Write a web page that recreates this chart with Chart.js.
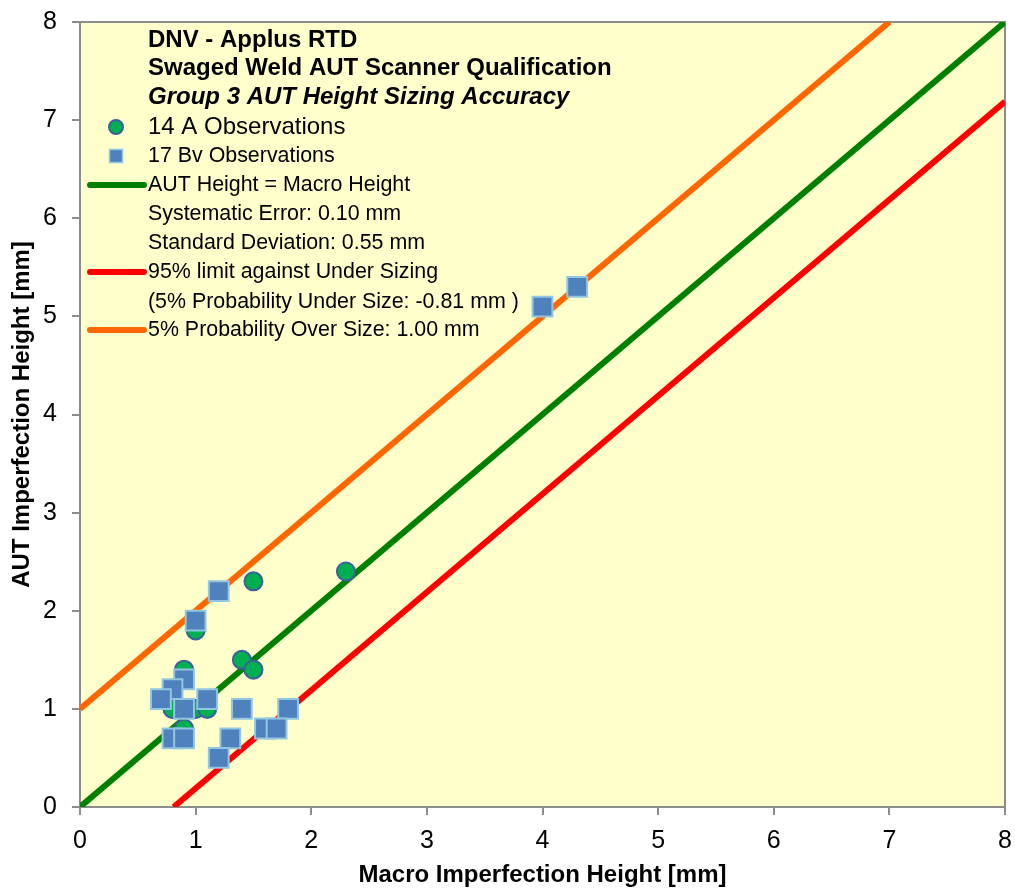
<!DOCTYPE html>
<html>
<head>
<meta charset="utf-8">
<script src="https://cdn.jsdelivr.net/npm/chart.js@4.4.1/dist/chart.umd.min.js"></script>
<style>
  html, body { margin: 0; padding: 0; background: #ffffff; }
  #wrap { width: 1015px; height: 888px; }
</style>
</head>
<body>
<div id="wrap"><canvas id="sizingChart" width="1015" height="888"></canvas></div>
<script>
// Group 3 AUT height sizing accuracy

// 14 A observations (macro height, AUT height) in mm
const aMacro = [1.5, 2.3, 1.0, 1.4, 1.5, 0.9, 1.0, 1.1, 0.9, 0.8, 0.9, 0.9, 0.8, 1.2];
const aAut   = [2.3, 2.4, 1.8, 1.5, 1.4, 1.4, 1.0, 1.0, 0.8, 1.0, 1.0, 1.3, 0.7, 2.2];

// 17 Bv observations
const bvMacro = [4.3, 4.0, 1.2, 1.0, 0.9, 0.8, 0.7, 0.9, 1.1, 1.4, 1.8, 0.8, 0.9, 1.3, 1.2, 1.6, 1.7];
const bvAut   = [5.3, 5.1, 2.2, 1.9, 1.3, 1.2, 1.1, 1.0, 1.1, 1.0, 1.0, 0.7, 0.7, 0.7, 0.5, 0.8, 0.8];

// reference lines, end points in mm
const equalLineX = [0, 8];
const equalLineY = [0, 8];
const underLineX = [0.81, 8];
const underLineY = [0, 7.19];
const overLineX  = [0, 7];
const overLineY  = [1, 8];

const axisTicks = [0, 1, 2, 3, 4, 5, 6, 7, 8];

const legendTitle = ['DNV - Applus RTD', 'Swaged Weld AUT Scanner Qualification', 'Group 3 AUT Height Sizing Accuracy'];
const legendItems = [
    { text: '14 A Observations', mark: 'circle' },
    { text: '17 Bv Observations', mark: 'square' },
    { text: 'AUT Height = Macro Height', mark: 'line', color: '#008000' },
    { text: 'Systematic Error: 0.10 mm', mark: 'none' },
    { text: 'Standard Deviation: 0.55 mm', mark: 'none' },
    { text: '95% limit against Under Sizing', mark: 'line', color: '#ff0000' },
    { text: '(5% Probability Under Size: -0.81 mm )', mark: 'none' },
    { text: '5% Probability Over Size: 1.00 mm', mark: 'line', color: '#ff6600' }
];

const FONT = "'Liberation Sans', Arial, sans-serif";

function toPoints(xs, ys) {
    return xs.map((x, i) => ({ x: x, y: ys[i] }));
}

// plot area background + frame
const plotFrame = {
    id: 'plotFrame',
    beforeDraw(chart) {
        const { ctx, chartArea: a } = chart;
        ctx.save();
        ctx.fillStyle = '#ffffff';
        ctx.fillRect(0, 0, chart.width, chart.height);
        ctx.fillStyle = '#ffffcc';
        ctx.fillRect(a.left, a.top, a.right - a.left, a.bottom - a.top);
        ctx.restore();
    },
    beforeDatasetsDraw(chart) {
        const { ctx, chartArea: a } = chart;
        ctx.save();
        ctx.strokeStyle = '#8c8c8c';
        ctx.lineWidth = 2;
        ctx.strokeRect(a.left, a.top, a.right - a.left, a.bottom - a.top);
        ctx.restore();
    }
};

// legend block inside the plot, top left
const insideLegend = {
    id: 'insideLegend',
    afterDraw(chart) {
        const ctx = chart.ctx;
        const textX = 148;
        const markX = 116;
        ctx.save();
        ctx.fillStyle = '#000000';
        ctx.textAlign = 'left';
        ctx.textBaseline = 'middle';

        const titleY = [40, 68, 97];
        legendTitle.forEach((t, i) => {
            ctx.font = (i === 2 ? 'italic bold 24px ' : 'bold 24px ') + FONT;
            ctx.fillText(t, textX, titleY[i]);
        });

        const rowY = [127, 156, 185, 214, 243, 272, 302, 330];
        legendItems.forEach((item, i) => {
            const y = rowY[i];
            ctx.font = (i === 0 ? '24px ' : '21.4px ') + FONT;
            ctx.fillStyle = '#000000';
            ctx.fillText(item.text, textX, y);
            if (item.mark === 'circle') {
                ctx.beginPath();
                ctx.arc(markX, y, 7, 0, Math.PI * 2);
                ctx.fillStyle = '#00b050';
                ctx.fill();
                ctx.lineWidth = 2;
                ctx.strokeStyle = '#3f5e9e';
                ctx.stroke();
            } else if (item.mark === 'square') {
                ctx.fillStyle = '#4f81bd';
                ctx.fillRect(markX - 6.5, y - 6.5, 13, 13);
                ctx.lineWidth = 1.5;
                ctx.strokeStyle = '#93c6e0';
                ctx.strokeRect(markX - 6.5, y - 6.5, 13, 13);
            } else if (item.mark === 'line') {
                ctx.beginPath();
                ctx.moveTo(90, y);
                ctx.lineTo(144, y);
                ctx.lineWidth = 6;
                ctx.lineCap = 'round';
                ctx.strokeStyle = item.color;
                ctx.stroke();
            }
        });
        ctx.restore();
    }
};

function axisOptions(titleText, isX) {
    return {
        type: 'linear',
        min: axisTicks[0],
        max: axisTicks[axisTicks.length - 1],
        afterBuildTicks: scale => {
            scale.ticks = axisTicks.map(v => ({ value: v }));
        },
        afterFit: scale => {
            // fixed axis box, no extra room for edge labels
            if (isX) {
                scale.height = 81;
                scale.paddingLeft = 0;
                scale.paddingRight = 0;
            } else {
                scale.width = 80;
                scale.paddingTop = 0;
                scale.paddingBottom = 0;
            }
        },
        grid: {
            drawOnChartArea: false,
            drawTicks: true,
            tickLength: 8,
            color: '#8c8c8c',
            lineWidth: 2
        },
        border: { display: true, color: '#8c8c8c', width: 2 },
        ticks: {
            color: '#000000',
            font: { family: FONT, size: 25 },
            padding: isX ? 11 : 15,
            maxRotation: 0
        },
        title: {
            display: true,
            text: titleText,
            color: '#000000',
            font: { family: FONT, size: 24, weight: 'bold', lineHeight: 1 },
            padding: isX ? { top: 0, bottom: 1 } : { top: 10, bottom: 0 }
        }
    };
}

new Chart(document.getElementById('sizingChart'), {
    type: 'scatter',
    data: {
        datasets: [
            {
                label: '17 Bv Observations',
                data: toPoints(bvMacro, bvAut),
                pointStyle: 'rect',
                pointRadius: 14,
                pointHoverRadius: 14,
                backgroundColor: '#4f81bd',
                borderColor: '#93c6e0',
                borderWidth: 2,
                order: 0
            },
            {
                label: '14 A Observations',
                data: toPoints(aMacro, aAut),
                pointStyle: 'circle',
                pointRadius: 9,
                pointHoverRadius: 9,
                backgroundColor: '#00b050',
                borderColor: '#3f5e9e',
                borderWidth: 2,
                order: 1
            },
            {
                label: 'AUT Height = Macro Height',
                data: toPoints(equalLineX, equalLineY),
                showLine: true,
                pointRadius: 0,
                borderColor: '#008000',
                borderWidth: 6,
                order: 2
            },
            {
                label: '95% limit against Under Sizing',
                data: toPoints(underLineX, underLineY),
                showLine: true,
                pointRadius: 0,
                borderColor: '#ff0000',
                borderWidth: 6,
                order: 3
            },
            {
                label: '5% Probability Over Size',
                data: toPoints(overLineX, overLineY),
                showLine: true,
                pointRadius: 0,
                borderColor: '#ff6600',
                borderWidth: 6,
                order: 4
            }
        ]
    },
    options: {
        responsive: false,
        animation: false,
        // big markers would otherwise push the plot edge inwards
        layout: { autoPadding: false, padding: { top: 22, right: 10, left: 0, bottom: 0 } },
        plugins: {
            legend: { display: false },
            tooltip: { enabled: false }
        },
        scales: {
            x: axisOptions('Macro Imperfection Height [mm]', true),
            y: axisOptions('AUT Imperfection Height [mm]', false)
        }
    },
    plugins: [plotFrame, insideLegend]
});
</script>
</body>
</html>
